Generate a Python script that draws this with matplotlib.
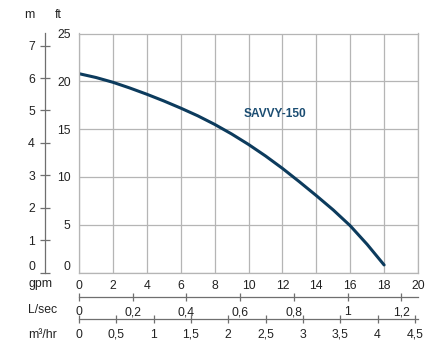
import numpy as np
import matplotlib.pyplot as plt

plt.rcParams['font.family'] = ['Liberation Sans', 'DejaVu Sans']

# pump curve: flow (gpm) vs head (ft)
flow_gpm = [0, 1, 2, 3, 4, 5, 6, 7, 8, 9, 10, 11, 12, 13, 14, 15, 16, 17, 18]
head_ft = [20.8, 20.4, 19.9, 19.3, 18.65, 17.95, 17.2, 16.4, 15.5, 14.5,
           13.4, 12.2, 10.9, 9.5, 8.05, 6.55, 4.9, 2.95, 0.8]
model = "SAVVY-150"

gpm_ticks = [0, 2, 4, 6, 8, 10, 12, 14, 16, 18, 20]
ft_ticks = [0, 5, 10, 15, 20, 25]
m_ticks = [0, 1, 2, 3, 4, 5, 6, 7]
lps_ticks = [0, 0.2, 0.4, 0.6, 0.8, 1, 1.2]
m3h_ticks = [0, 0.5, 1, 1.5, 2, 2.5, 3, 3.5, 4, 4.5]

GPM_PER_LPS = 15.85
GPM_PER_M3H = 4.403
FT_PER_M = 3.39

W, H = 448, 345
txt = '#222222'
grid_c = '#b5b5b5'
axis_c = '#6f6f6f'
curve_c = '#0c3b5d'
fs = 8.8


def comma(v):
    s = ('%g' % v)
    return s.replace('.', ',')


fig = plt.figure(figsize=(W / 100, H / 100), dpi=100)
left, right = 79 / W, 418 / W
bot, top = 1 - 272.6 / H, 1 - 33.5 / H
ax = fig.add_axes([left, bot, right - left, top - bot])

ax.plot(flow_gpm, head_ft, color=curve_c, lw=2.2, solid_capstyle='round',
        solid_joinstyle='round')
ax.text(9.7, 16.55, model, color='#1b4d72', fontsize=8.6, fontweight='bold',
        va='center', ha='left')

ax.set_xlim(0, 20)
ax.set_ylim(0, 25)
ax.set_xticks(gpm_ticks)
ax.set_yticks(ft_ticks)
ax.set_xticklabels([str(t) for t in gpm_ticks])
ax.set_yticklabels([str(t) for t in ft_ticks])
ax.grid(True, color=grid_c, lw=0.9)
ax.tick_params(length=0, labelsize=fs, labelcolor=txt)
ax.tick_params(axis='x', pad=5)
ax.tick_params(axis='y', pad=6)
ax.get_yticklabels()[0].set_verticalalignment('bottom')
for s in ax.spines.values():
    s.set_color(grid_c)
    s.set_linewidth(0.9)

# metre scale on a separate vertical rule
ax_m = fig.add_axes([45 / W, bot, 0.0001, top - bot])
ax_m.set_ylim(0, 25)
ax_m.set_yticks([m * FT_PER_M for m in m_ticks])
ax_m.set_yticklabels([str(m) for m in m_ticks])
ax_m.set_xticks([])
for k in ['top', 'right', 'bottom']:
    ax_m.spines[k].set_visible(False)
ax_m.spines['left'].set_color(axis_c)
ax_m.spines['left'].set_linewidth(0.9)
ax_m.tick_params(axis='y', direction='inout', length=6.5, width=0.9,
                 color=axis_c, labelsize=fs, labelcolor=txt, pad=4)
ax_m.get_yticklabels()[0].set_verticalalignment('bottom')
ax_m.patch.set_visible(False)


def flow_scale(y_px, ticks, factor):
    a = fig.add_axes([left, 1 - y_px / H, right - left, 0.0001])
    a.set_xlim(0, 20 / factor)
    a.set_xticks(ticks)
    a.set_xticklabels([comma(t) for t in ticks])
    a.set_yticks([])
    for k in ['top', 'right', 'left']:
        a.spines[k].set_visible(False)
    a.spines['bottom'].set_color(axis_c)
    a.spines['bottom'].set_linewidth(0.9)
    a.tick_params(axis='x', direction='inout', length=5.5, width=0.9,
                  color=axis_c, labelsize=fs, labelcolor=txt, pad=4)
    a.patch.set_visible(False)
    return a


flow_scale(296.7, lps_ticks, GPM_PER_LPS)
flow_scale(319.3, m3h_ticks, GPM_PER_M3H)

# unit captions
fig.text(24 / W, 1 - 15 / H, 'm', fontsize=fs, color=txt, va='center')
fig.text(55 / W, 1 - 15 / H, 'ft', fontsize=fs, color=txt, va='center')
fig.text(28 / W, 1 - 283.5 / H, 'gpm', fontsize=fs, color=txt, va='center')
fig.text(28 / W, 1 - 310 / H, 'L/sec', fontsize=fs, color=txt, va='center')
fig.text(28 / W, 1 - 334.5 / H, 'm³/hr', fontsize=fs, color=txt, va='center')

fig.savefig('out.png', dpi=100)
